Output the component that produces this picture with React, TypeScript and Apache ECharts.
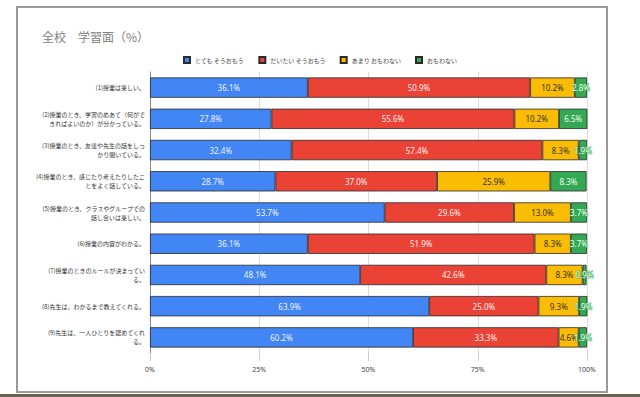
import React, { useEffect, useRef } from "react";
import * as echarts from "echarts";

const categories = [
  "(1)授業は楽しい。",
  "(2)授業のとき、学習のめあて（何がで\nきればよいのか）が分かっている。",
  "(3)授業のとき、友達や先生の話をしっ\nかり聞いている。",
  "(4)授業のとき、感じたり考えたりしたこ\nとをよく話している。",
  "(5)授業のとき、クラスやグループでの\n話し合いは楽しい。",
  "(6)授業の内容がわかる。",
  "(7)授業のときのルールが決まってい\nる。",
  "(8)先生は、わかるまで教えてくれる。",
  "(9)先生は、一人ひとりを認めてくれ\nる。",
];
const seriesNames = ["とても そうおもう", "だいたい そうおもう", "あまり おもわない", "おもわない"];
const totemo = [36.1, 27.8, 32.4, 28.7, 53.7, 36.1, 48.1, 63.9, 60.2];
const daitai = [50.9, 55.6, 57.4, 37.0, 29.6, 51.9, 42.6, 25.0, 33.3];
const amari = [10.2, 10.2, 8.3, 25.9, 13.0, 8.3, 8.3, 9.3, 4.6];
const omowanai = [2.8, 6.5, 1.9, 8.3, 3.7, 3.7, 0.9, 1.9, 1.9];
const xTicks = [0, 25, 50, 75, 100];

const colors = ["#4285F4", "#EA4335", "#FBBC04", "#34A853"];
const labelColors = ["#eef3ff", "#fdf0ef", "#333333", "#f0fff2"];

export default function App() {
  const ref = useRef<HTMLDivElement>(null);
  useEffect(() => {
    document.body.style.margin = "0";
    const chart = echarts.init(ref.current!, null, { renderer: "svg" });
    const data = [totemo, daitai, amari, omowanai];
    chart.setOption({
      animation: false,
      backgroundColor: "#ffffff",
      title: {
        text: "全校　学習面（%）",
        left: 37,
        top: 25,
        textStyle: { fontSize: 12, fontWeight: "normal", color: "#808080", fontFamily: "Noto Sans CJK JP" },
      },
      legend: {
        top: 51,
        left: "center",
        itemWidth: 6,
        itemHeight: 6,
        itemGap: 14,
        icon: "rect",
        textStyle: { fontSize: 6, color: "#444", fontFamily: "Noto Sans CJK JP" },
        data: seriesNames,
      },
      graphic: [
        {
          type: "rect",
          shape: { x: 17, y: 7, width: 590, height: 385 },
          style: { fill: "none", stroke: "#9a9a9a", lineWidth: 2 },
          silent: true,
        },
        {
          type: "rect",
          shape: { x: 0, y: 394, width: 640, height: 3 },
          style: { fill: "#6b6250" },
          silent: true,
        },
      ],
      grid: { left: 150, right: 53, top: 72, bottom: 44, containLabel: false },
      xAxis: {
        type: "value",
        min: 0,
        max: 100,
        interval: 25,
        axisLine: { show: false },
        axisTick: { show: true, length: 8, lineStyle: { color: "#cccccc" } },
        splitLine: { show: true, lineStyle: { color: "#dddddd" } },
        axisLabel: {
          fontSize: 7,
          color: "#444",
          margin: 13,
          fontFamily: "Noto Sans",
          formatter: (v: number) => (xTicks.includes(v) ? v + "%" : ""),
        },
      },
      yAxis: {
        type: "category",
        inverse: true,
        data: categories,
        axisLine: { show: true, lineStyle: { color: "#888888" } },
        axisTick: { show: false },
        axisLabel: {
          fontSize: 6,
          color: "#333",
          lineHeight: 9,
          margin: 5,
          align: "right",
          fontFamily: "Noto Sans CJK JP",
        },
      },
      series: seriesNames.map((name, i) => ({
        name,
        type: "bar",
        stack: "total",
        barCategoryGap: "35%",
        itemStyle: { color: colors[i], borderColor: "#2a2a2a", borderWidth: 0.8 },
        label: {
          show: true,
          position: "inside",
          fontSize: 8,
          color: labelColors[i],
          fontFamily: "Noto Sans",
          textBorderColor: i === 3 ? "#34A853" : "transparent",
          textBorderWidth: i === 3 ? 1 : 0,
          formatter: (p: any) => p.value.toFixed(1) + "%",
        },
        data: data[i],
      })),
    });
    return () => chart.dispose();
  }, []);
  return <div ref={ref} style={{ width: 640, height: 397 }} />;
}
